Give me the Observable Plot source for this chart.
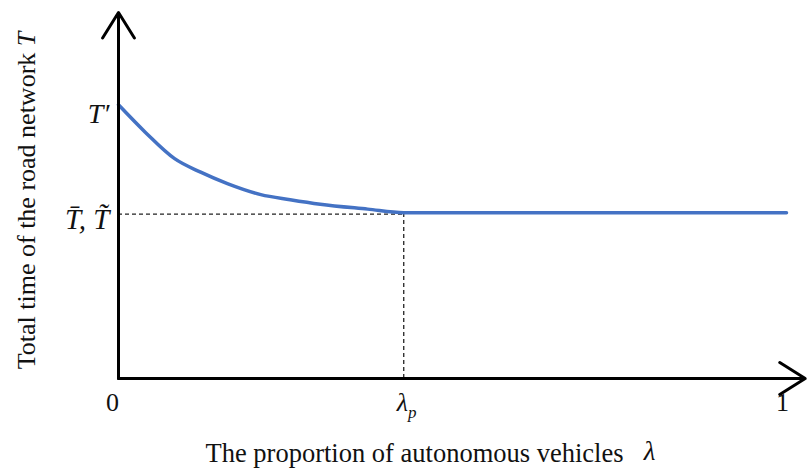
<!DOCTYPE html>
<html><head><meta charset="utf-8">
<script src="https://cdn.jsdelivr.net/npm/d3@7"></script>
<script src="https://cdn.jsdelivr.net/npm/@observablehq/plot@0.6"></script>
<style>body{margin:0;background:#fff}</style>
</head><body><div id="chart"></div>
<script>
// Data
const lambda    = [0, 0.040, 0.084, 0.123, 0.163, 0.213, 0.257, 0.302, 0.373, 0.427, 1.0];
const totalTime = [2.49, 2.241, 2.0, 1.877, 1.773, 1.673, 1.627, 1.586, 1.541, 1.509, 1.509];
const lambdaP = 0.427;
const tPrime = 2.49;
const tBar = 1.509;
const xAxisEnd = 1.028;
const yAxisEnd = 3.33;
const xTickValues = [0, lambdaP, 1];
const xTickLabels = ["0", "λp", "1"];
const tPrimeLabel = "T′";
const tBarLabel = "T̄, T̃";
const xTitle = "The proportion of autonomous vehicles";
const xTitleSymbol = "λ";
const yTitle = "Total time of the road network T";

const curve = lambda.map((x, i) => ({x, y: totalTime[i]}));
const serif = "'Liberation Serif', 'Times New Roman', serif";

const plot = Plot.plot({
  width: 807, height: 468,
  marginLeft: 118, marginRight: 21, marginTop: 12, marginBottom: 90,
  x: {domain: [0, 1], axis: null},
  y: {domain: [0, yAxisEnd], axis: null},
  style: {background: "#fff", fontFamily: serif},
  marks: [
    Plot.ruleY([tBar], {x1: 0, x2: lambdaP, dy: 1.5, stroke: "#222", strokeWidth: 1.3, strokeDasharray: "4,3"}),
    Plot.ruleX([lambdaP], {y1: 0, y2: tBar, stroke: "#222", strokeWidth: 1.3, strokeDasharray: "4,3"}),
    Plot.line(curve, {x: "x", y: "y", stroke: "#4472C4", strokeWidth: 3.5, curve: "monotone-x"}),
    Plot.arrow([{x1: 0, y1: 0, x2: xAxisEnd, y2: 0}, {x1: 0, y1: 0, x2: 0, y2: yAxisEnd}],
      {x1: "x1", y1: "y1", x2: "x2", y2: "y2", stroke: "#000", strokeWidth: 3, headLength: 15, headAngle: 64}),
    Plot.text(xTickValues.map((v, i) => ({v, t: xTickLabels[i]})), {
      x: "v", y: 0, text: "t", dy: 24, fontSize: 26, fontFamily: serif, fill: "#111",
      textAnchor: "middle", lineAnchor: "middle"
    }),
    Plot.text([tPrime], {
      x: 0, y: d => d, text: () => tPrimeLabel, dx: -9, dy: 9, textAnchor: "end", lineAnchor: "middle",
      fontSize: 28, fontStyle: "italic", fontFamily: serif, fill: "#111"
    }),
    Plot.text([tBar], {
      x: 0, y: d => d, text: () => tBarLabel, dx: -9, dy: 7, textAnchor: "end", lineAnchor: "middle",
      fontSize: 29, fontStyle: "italic", fontFamily: serif, fill: "#111"
    }),
    Plot.text([xTitle], {frameAnchor: "bottom", dx: -38, dy: 75, textAnchor: "middle", lineAnchor: "middle", fontSize: 26.5, fontFamily: serif, fill: "#111"}),
    Plot.text([xTitleSymbol], {frameAnchor: "bottom", dx: 197, dy: 73, textAnchor: "middle", lineAnchor: "middle", fontSize: 27, fontStyle: "italic", fontFamily: serif, fill: "#111"}),
    Plot.text([yTitle], {frameAnchor: "left", dx: -92, dy: 5, rotate: -90, textAnchor: "middle", lineAnchor: "middle", fontSize: 26, fontFamily: serif, fill: "#111"})
  ]
});
document.getElementById("chart").appendChild(plot);

// Post-process: italic symbols, subscript, small label nudges
d3.select(plot).selectAll("text").each(function() {
  const el = d3.select(this);
  const t = el.text();
  let shift = null;
  if (t === "λp") {
    el.text("");
    el.append("tspan").attr("font-style", "italic").text("λ");
    el.append("tspan").attr("font-style", "italic").attr("font-size", 17).attr("dy", 7).text("p");
    shift = 3;
  } else if (t === "0") shift = -6;
  else if (t === "1") shift = -4;
  else if (t === yTitle) {
    el.text("");
    el.append("tspan").text(t.slice(0, -1));
    el.append("tspan").attr("font-style", "italic").text(t.slice(-1));
  }
  if (shift !== null) el.attr("transform", (el.attr("transform") || "") + ` translate(${shift},0)`);
});
</script>
</body></html>
